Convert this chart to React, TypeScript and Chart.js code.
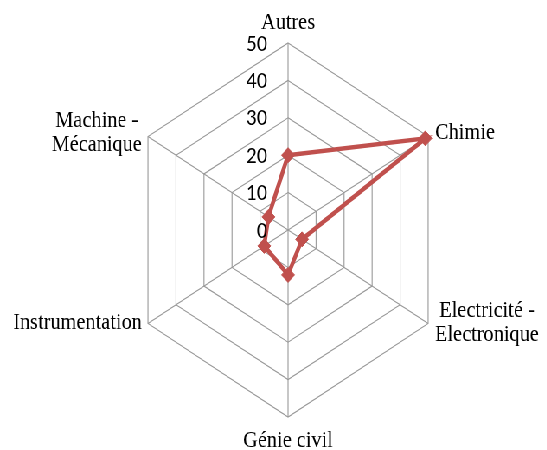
import React, { useEffect, useRef } from "react";
import { Chart, registerables } from "chart.js";

Chart.register(...registerables);

const categories: string[][] = [
  ["Autres"],
  ["Chimie"],
  ["Electricité -", "Electronique"],
  ["Génie civil"],
  ["Instrumentation"],
  ["Machine -", "Mécanique"],
];
const seriesValues: number[] = [20, 49, 5, 12, 8.5, 7];
const tickValues: number[] = [0, 10, 20, 30, 40, 50];

const SQUEEZE = 0.865;
const W = 632;
const H = 450;
const LABEL_FONT = 23.5;
const TICK_FONT = 21;

const labelPlugin = {
  id: "customLabels",
  afterDraw(chart: any) {
    const scale = chart.scales.r;
    const ctx = chart.ctx as CanvasRenderingContext2D;
    ctx.save();
    // tick labels
    ctx.font = `${TICK_FONT}px Lato`;
    ctx.fillStyle = "#000";
    ctx.textAlign = "right";
    ctx.textBaseline = "alphabetic";
    tickValues.forEach((v) => {
      const y = scale.yCenter - scale.getDistanceFromCenterForValue(v);
      ctx.fillText(String(v), scale.xCenter - 24, y + 7.5);
    });
    // point labels
    ctx.font = `${LABEL_FONT}px "Liberation Serif"`;
    const n = categories.length;
    const capH = 0.662 * LABEL_FONT;
    const L = 24;
    categories.forEach((lines, i) => {
      const p = scale.getPointPosition(i, scale.drawingArea);
      const deg = (i * 360) / n;
      ctx.textAlign = "center";
      if (deg === 0) {
        lines.forEach((ln, k) => {
          ctx.fillText(ln, p.x, p.y - 14 - (lines.length - 1 - k) * L);
        });
      } else if (deg === 180) {
        lines.forEach((ln, k) => {
          ctx.fillText(ln, p.x, p.y + 30 + k * L);
        });
      } else {
        const bw = Math.max(...lines.map((ln) => ctx.measureText(ln).width));
        const right = deg < 180;
        const upper = deg < 90 || deg > 270;
        const cx = right ? p.x + 8 + bw / 2 : p.x - 7 - bw / 2;
        const adj = upper ? -5 : -2;
        const first = p.y + capH / 2 - ((lines.length - 1) * L) / 2 + adj;
        lines.forEach((ln, k) => {
          ctx.fillText(ln, cx, first + k * L);
        });
      }
    });
    ctx.restore();
  },
};

export default function App() {
  const ref = useRef<HTMLCanvasElement>(null);
  useEffect(() => {
    if (!ref.current) return;
    const chart = new Chart(ref.current, {
      type: "radar",
      data: {
        labels: categories,
        datasets: [
          {
            data: seriesValues,
            borderColor: "#C0504D",
            backgroundColor: "#C0504D",
            pointBackgroundColor: "#C0504D",
            pointBorderColor: "#C0504D",
            borderWidth: 4.5,
            pointStyle: "rectRot",
            pointRadius: 7.5,
            pointBorderWidth: 1,
            fill: false,
            tension: 0,
          },
        ],
      },
      options: {
        responsive: false,
        animation: false,
        devicePixelRatio: 1,
        layout: { padding: { left: 146, right: 112, top: 43, bottom: 33 } },
        plugins: {
          legend: { display: false },
          tooltip: { enabled: false },
        },
        scales: {
          r: {
            min: 0,
            max: 50,
            ticks: { stepSize: 10, display: false },
            pointLabels: { display: false },
            grid: { color: "#999999", lineWidth: 1.1 },
            angleLines: { color: "#999999", lineWidth: 1.1 },
          },
        },
      },
      plugins: [labelPlugin],
    });
    return () => chart.destroy();
  }, []);
  return (
    <div
      style={{
        position: "fixed",
        left: 0,
        top: 0,
        width: W,
        height: H,
        background: "#fff",
        transform: `scaleX(${SQUEEZE})`,
        transformOrigin: "0 0",
      }}
    >
      <canvas ref={ref} width={W} height={H} />
    </div>
  );
}
